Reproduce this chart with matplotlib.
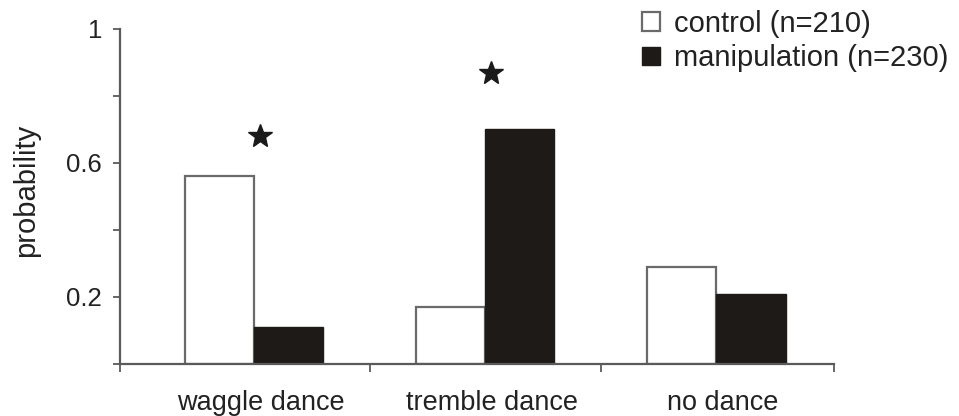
import numpy as np
import matplotlib.pyplot as plt

plt.rcParams["font.family"] = ["Liberation Sans", "DejaVu Sans"]

categories = ["waggle dance", "tremble dance", "no dance"]
control = [0.56, 0.17, 0.29]
manipulation = [0.11, 0.70, 0.21]
labels = ["control (n=210)", "manipulation (n=230)"]
# significant differences are flagged with a star above the group
star_groups = [0, 1]
star_heights = [0.68, 0.87]

axis_col = "#5a5a5a"
text_col = "#222222"
dark = "#1e1a18"

fig = plt.figure(figsize=(9.59, 4.16), dpi=100)
ax = fig.add_axes([0.1251, 0.125, 0.7446, 0.8053])

x = np.arange(len(categories))
width = 0.30

b1 = ax.bar(x - width / 2, control, width, color="white",
            edgecolor="#6a6a6a", linewidth=1.6, label=labels[0])
b2 = ax.bar(x + width / 2, manipulation, width, color=dark,
            edgecolor=dark, linewidth=1.0, label=labels[1])

ax.plot(x[star_groups] + 0.025, star_heights, linestyle="none", marker="*",
        markersize=18, color="#1a1a1a")

ax.set_ylim(0, 1)
ax.set_xlim(-0.58, 2.51)

# y axis: ticks every 0.2, only some labelled
ax.set_yticks([0, 0.2, 0.4, 0.6, 0.8, 1.0])
ax.set_yticklabels(["", "0.2", "", "0.6", "", "1"])
ax.tick_params(axis="y", length=5, width=1.3, color=axis_col, pad=8,
               labelsize=18.5, labelcolor=text_col)

# x axis: ticks on category boundaries, names in between
ax.set_xticks([-0.58, 0.5, 1.5, 2.51])
ax.set_xticklabels([])
ax.tick_params(axis="x", which="major", length=6, width=1.3, color=axis_col)
ax.set_xticks(x + 0.03, minor=True)
ax.set_xticklabels(categories, minor=True)
ax.tick_params(axis="x", which="minor", length=0, pad=19,
               labelsize=19.5, labelcolor=text_col)

for side in ["top", "right"]:
    ax.spines[side].set_visible(False)
for side in ["left", "bottom"]:
    ax.spines[side].set_color(axis_col)
    ax.spines[side].set_linewidth(1.6)

fig.text(26 / 959, 1 - 190 / 416, "probability", rotation=90,
         ha="center", va="center", fontsize=21, color=text_col)

fig.legend(handles=[b1, b2], loc="upper left",
           bbox_to_anchor=(642 / 959, 1 - 10 / 416), frameon=False,
           fontsize=21, handlelength=0.6, handleheight=0.6,
           handletextpad=0.5, labelspacing=0.22, borderpad=0,
           borderaxespad=0, labelcolor=text_col)

fig.savefig("out.png", dpi=100)
